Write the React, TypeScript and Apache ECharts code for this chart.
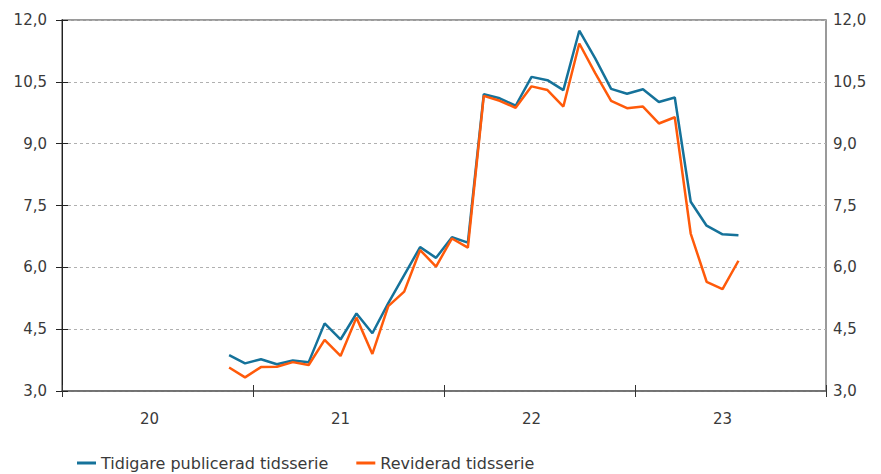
import React, { useEffect, useRef } from "react";
import * as echarts from "echarts";

// Months since Jan 2020 (Nov 2020 .. Jul 2023), plotted at mid-month
const startMonth = 10;
const yearLabels = ["20", "21", "22", "23"];
const seriesNames = ["Tidigare publicerad tidsserie", "Reviderad tidsserie"];
const previous = [3.87, 3.67, 3.77, 3.65, 3.74, 3.70, 4.64, 4.25, 4.88, 4.40, 5.13, 5.81, 6.49, 6.23, 6.73, 6.60,
  10.20, 10.10, 9.92, 10.62, 10.54, 10.30, 11.74, 11.07, 10.33, 10.21, 10.32, 10.01, 10.12, 7.59, 7.01, 6.80, 6.78];
const revised = [3.57, 3.33, 3.58, 3.59, 3.70, 3.63, 4.24, 3.85, 4.78, 3.90, 5.06, 5.41, 6.42, 6.02, 6.70, 6.48,
  10.16, 10.04, 9.87, 10.39, 10.30, 9.90, 11.43, 10.71, 10.04, 9.86, 9.90, 9.49, 9.64, 6.82, 5.65, 5.47, 6.16];

const FONT = "DejaVu Sans";
const monthCats = Array.from({ length: 48 }, (_, i) => String(i));

export default function App() {
  const ref = useRef<HTMLDivElement>(null);
  useEffect(() => {
    if (!ref.current) return;
    const chart = echarts.init(ref.current, undefined, { renderer: "svg" });
    const toPts = (arr: number[]) => arr.map((v, i) => [startMonth + i + 0.5, v]);
    const fmt = (v: number) => v.toFixed(1).replace(".", ",");
    chart.setOption({
      animation: false,
      grid: { left: 62, right: 55, top: 20, bottom: 83, show: true, borderColor: "#7a7a7a", borderWidth: 1.5 },
      legend: {
        left: 77,
        top: 455,
        padding: 0,
        itemWidth: 19,
        itemHeight: 3,
        itemGap: 28,
        icon: "rect",
        textStyle: { fontFamily: FONT, fontSize: 16, lineHeight: 16, color: "#3a3a3a" },
        data: seriesNames,
      },
      xAxis: [
        {
          type: "value", min: 0, max: 48, interval: 12, position: "bottom",
          axisLine: { show: true, lineStyle: { color: "#666", width: 1.5 } },
          axisTick: { show: true, length: 6, lineStyle: { color: "#333" } },
          axisLabel: { show: false },
          splitLine: { show: false },
        },
        {
          type: "category", data: monthCats, boundaryGap: true, position: "bottom",
          axisLine: { show: false },
          axisTick: { show: false },
          axisLabel: {
            show: true, margin: 20, fontFamily: FONT, fontSize: 15, color: "#3a3a3a",
            interval: (idx: number) => idx % 12 === 5,
            formatter: (_v: string, idx: number) => yearLabels[Math.floor(idx / 12)],
          },
          splitLine: { show: false },
        },
        {
          type: "value", min: 0, max: 48, interval: 12, position: "bottom",
          axisLine: { show: false },
          axisTick: { show: true, inside: true, length: 6, lineStyle: { color: "#333" } },
          axisLabel: { show: false },
          splitLine: { show: false },
        },
      ],
      yAxis: [
        {
          type: "value", min: 3, max: 12, interval: 1.5, position: "left",
          axisLine: { show: true, lineStyle: { color: "#222" } },
          axisTick: { show: true, length: 6, lineStyle: { color: "#222" } },
          axisLabel: { margin: 15, fontFamily: FONT, fontSize: 15, color: "#3a3a3a", formatter: fmt },
          splitLine: { show: true, lineStyle: { color: "#b0b0b0", type: [3, 3] } },
        },
        {
          type: "value", min: 3, max: 12, interval: 1.5, position: "right",
          axisLine: { show: true, lineStyle: { color: "#222" } },
          axisTick: { show: true, length: 6, lineStyle: { color: "#222" } },
          axisLabel: { margin: 7, fontFamily: FONT, fontSize: 15, color: "#3a3a3a", formatter: fmt },
          splitLine: { show: false },
        },
      ],
      series: [
        {
          name: seriesNames[0], type: "line", xAxisIndex: 0, yAxisIndex: 0,
          data: toPts(previous), showSymbol: false, symbol: "none",
          lineStyle: { color: "#15729a", width: 2.5 }, itemStyle: { color: "#15729a" }, z: 2,
        },
        {
          name: seriesNames[1], type: "line", xAxisIndex: 0, yAxisIndex: 0,
          data: toPts(revised), showSymbol: false, symbol: "none",
          lineStyle: { color: "#ff5a0a", width: 2.5 }, itemStyle: { color: "#ff5a0a" }, z: 3,
        },
      ],
    });
    return () => chart.dispose();
  }, []);
  return <div ref={ref} style={{ position: "absolute", left: 0, top: 0, width: 881, height: 474 }} />;
}
